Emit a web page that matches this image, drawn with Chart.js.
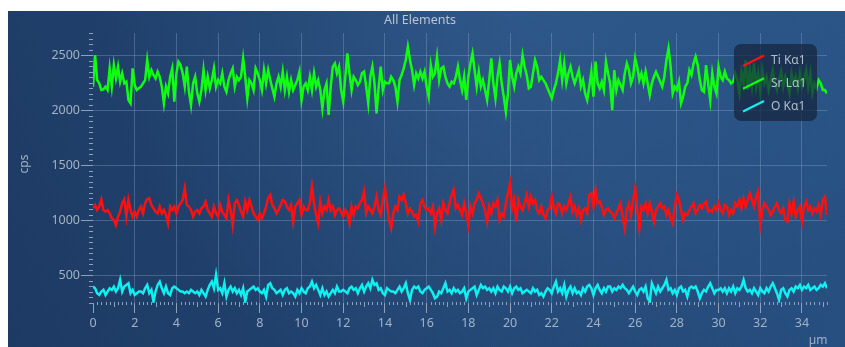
<!DOCTYPE html>
<html>
<head>
<meta charset="utf-8">
<script src="https://cdn.jsdelivr.net/npm/chart.js@4.4.0/dist/chart.umd.min.js"></script>
<style>
  html, body { margin: 0; padding: 0; background: #ffffff; }
  canvas { display: block; }
</style>
</head>
<body>
<canvas id="c" width="845" height="347"></canvas>
<script>
// Line scan profile: counts per second along the scan, sampled every 0.1 µm
const STEP_UM = 0.1;

const tiKa1 = [
  1109,1140,1094,1125,1191,1094,1079,1094,1064,1019,1004,958,1034,1079,1155,1191,1034,1185,1094,1034,1079,1034,1094,1125,1064,1155,1191,1200,1140,1109,1079,1064,1125,1064,1094,1049,973,1125,1094,1125,1064,1125,1155,1185,1291,1140,1125,1094,1034,1079,1094,1064,1109,1125,1170,1094,1064,1034,
  1125,1064,1034,1140,1079,1049,1019,1185,1094,958,1155,1185,1140,1079,1034,1170,1094,1185,1125,1064,1034,1004,1064,1019,1064,1125,1200,1230,1140,1109,1064,1094,1140,1185,1170,1125,1094,1140,989,1125,1155,1185,1049,1125,1094,1094,1155,1306,1155,1049,973,1170,1064,1125,1094,1185,1094,1125,1049,1094,1109,
  1079,1034,1094,1064,973,1125,1049,1125,1109,1155,1185,1261,1064,1125,1094,1064,1125,1215,1094,1049,1185,1291,1155,1004,928,1064,1125,1094,1215,1185,1230,1155,1064,1109,1079,1034,1049,989,1155,1185,1125,1094,1109,1064,1125,943,1064,1109,1004,1155,1094,1064,1155,1230,1276,1109,1140,1094,1049,1155,
  1064,958,1125,1064,1155,1185,1245,1200,1155,1094,989,1125,1064,1155,1125,1185,1004,1064,1034,1155,1245,1336,1109,1185,989,1185,1125,1094,1155,1230,1125,1215,1155,1185,1094,1064,1125,1049,1019,1094,1109,1215,1109,1064,1155,1140,1064,1125,1094,1155,1215,1079,1125,1049,1109,1004,1094,1109,1064,1230,1245,
  1125,1276,1155,1170,1125,1049,1094,1109,1079,1064,1019,1064,1109,1155,1034,928,1094,1155,1049,1185,1291,1094,928,1125,1094,1155,1064,1155,1079,989,1094,1125,1155,1109,1125,1049,1094,1019,973,1125,1230,1185,1094,1004,1064,1049,1094,1125,1155,1064,1094,1140,1109,1155,1170,1079,1094,1079,1125,1094,
  1155,1094,1064,1140,1125,1049,1094,1064,1155,1125,1185,1109,1200,1125,1185,1245,1185,1125,1215,1261,958,1094,1155,1125,1094,1049,1079,1125,1155,1094,1064,1109,1004,989,1155,1064,1170,1034,1094,1125,989,1125,1170,1094,1125,1064,1109,1079,1140,1049,1185,1215,1049
];

const srLa1 = [
  2213,2500,2273,2243,2183,2189,2213,2183,2379,2213,2409,2288,2394,2258,2334,2243,2258,2092,2062,2379,2228,2183,2198,2213,2243,2273,2455,2303,2364,2319,2288,2349,2303,2213,2062,2213,2152,2303,2379,2077,2334,2440,2409,2334,2213,2394,2167,2047,2243,2303,2152,2077,2183,2364,2183,2303,2198,2273,
  2379,2213,2273,2243,2334,2213,2167,2273,2334,2379,2213,2303,2273,2303,2470,2303,2107,2273,2243,2183,2379,2334,2273,2183,2364,2243,2364,2273,2198,2122,2243,2303,2213,2349,2183,2303,2167,2273,2183,2228,2273,2349,2092,2213,2243,2183,2303,2183,2334,2213,2273,2183,2016,2183,2243,1956,2213,2394,2424,2334,2394,
  2183,2077,2303,2515,2334,2183,2303,2273,2228,2258,2334,2349,2213,2062,2303,2394,2243,1971,2213,2394,2183,2258,2243,2243,2303,2273,2213,2077,2273,2319,2379,2455,2576,2455,2364,2228,2334,2288,2349,2288,2349,2213,2122,2409,2303,2334,2485,2273,2379,2394,2303,2243,2213,2258,2243,2303,2394,2273,2183,2303,
  2092,2303,2424,2515,2364,2213,2349,2213,2273,2183,2092,2273,2470,2243,2107,2303,2424,2243,2122,1986,2152,2455,2303,2213,2334,2394,2334,2500,2394,2319,2198,2213,2334,2455,2394,2273,2303,2273,2243,2198,2152,2107,2183,2243,2334,2455,2273,2424,2243,2334,2394,2303,2243,2303,2364,2213,2273,2152,2092,2213,2349,
  2122,2440,2243,2198,2258,2183,2440,2334,2243,2001,2364,2183,2273,2228,2183,2334,2424,2364,2243,2303,2470,2394,2273,2334,2243,2349,2243,2137,2243,2303,2349,2303,2258,2213,2303,2455,2560,2394,2152,2213,2183,2258,2062,2122,2213,2243,2364,2319,2424,2485,2409,2273,2183,2167,2409,2243,2092,2334,2213,2152,
  2394,2303,2273,2349,2288,2273,2243,2258,2334,2273,2152,2349,2243,2455,2183,2364,2213,2424,2213,2334,2167,2364,2243,2303,2183,2273,2364,2243,2183,2273,2349,2213,2303,2243,2152,2334,2243,2303,2198,2334,2213,2273,2364,2213,2334,2152,2243,2198,2273,2243,2183,2183,2152
];

const oKa1 = [
  399,384,339,323,354,369,323,354,384,369,399,354,384,460,354,399,414,429,339,369,323,339,354,354,339,384,414,339,369,263,354,414,444,384,339,399,339,323,384,399,384,369,354,354,339,354,339,369,354,339,354,323,369,339,308,369,414,444,
  384,505,369,384,339,429,308,369,399,354,384,339,369,323,384,263,354,369,384,399,369,384,354,339,369,308,414,429,384,369,339,354,369,323,369,384,339,354,339,308,369,339,384,354,339,384,399,444,384,414,369,323,384,323,354,308,339,369,339,399,354,
  354,369,354,339,384,399,369,384,339,384,414,354,399,429,384,460,414,429,369,384,339,323,384,369,354,354,339,369,399,354,384,429,339,278,369,399,384,399,354,339,369,384,399,369,339,293,308,354,339,384,429,354,369,339,384,354,369,339,354,384,
  293,354,369,384,399,323,369,414,384,399,369,384,354,384,339,399,369,354,399,384,354,399,339,384,399,369,384,339,354,369,354,339,384,354,369,323,339,308,354,384,369,339,399,444,354,384,339,414,308,369,399,339,384,339,354,323,384,354,399,414,384,
  323,384,414,369,339,384,354,399,399,354,384,369,399,384,414,384,369,339,369,399,354,323,369,384,354,399,293,263,429,384,339,399,354,384,414,460,369,384,339,369,323,384,399,354,369,308,384,399,384,399,354,293,339,369,354,399,429,384,339,369,
  369,384,354,384,339,384,354,399,339,384,369,399,460,384,354,369,339,384,354,323,384,354,339,384,354,399,429,384,339,278,369,384,339,308,369,384,354,399,384,414,369,399,384,414,369,384,399,369,384,414,399,429,384
];

const seriesNames = ['Ti Kα1', 'Sr Lα1', 'O Kα1'];
const seriesColors = ['#ff1010', '#10ff10', '#10f0f0'];
const yTickValues = [500, 1000, 1500, 2000, 2500];
const xTickValues = [0, 2, 4, 6, 8, 10, 12, 14, 16, 18, 20, 22, 24, 26, 28, 30, 32, 34];
const chartTitle = 'All Elements';
const yAxisTitle = 'cps';
const xAxisTitle = 'µm';

const Y_MIN = 250, Y_MAX = 2700, X_MIN = 0, X_MAX = 35.2;

function toPoints(values) {
  return values.map((v, i) => ({ x: Math.round(i * STEP_UM * 10) / 10, y: v }));
}

const TICK_COLOR = '#8ea1b8';
const LABEL_COLOR = '#a3b2c4';
const GRID_COLOR = 'rgba(150,180,215,0.32)';
const FONT = '"Noto Sans", "Open Sans", sans-serif';

// panel background, drawn under everything
const panelPlugin = {
  id: 'panel',
  beforeDraw(chart) {
    const ctx = chart.ctx;
    ctx.save();
    ctx.fillStyle = '#ffffff';
    ctx.fillRect(0, 0, chart.width, chart.height);
    const x0 = 8, y0 = 11, w = chart.width - x0, h = chart.height - y0;
    const lin = ctx.createLinearGradient(x0, y0 + h, x0 + w, y0);
    lin.addColorStop(0, '#1d3a63');
    lin.addColorStop(0.55, '#234775');
    lin.addColorStop(1, '#285284');
    ctx.fillStyle = lin;
    ctx.fillRect(x0, y0, w, h);
    const rad = ctx.createRadialGradient(520, 0, 10, 520, 0, 420);
    rad.addColorStop(0, 'rgba(70,120,175,0.30)');
    rad.addColorStop(1, 'rgba(70,120,175,0)');
    ctx.fillStyle = rad;
    ctx.fillRect(x0, y0, w, h);
    ctx.restore();
  }
};

// minor ticks, titles and the legend box
const decorPlugin = {
  id: 'decor',
  afterDatasetsDraw(chart) {
    const ctx = chart.ctx;
    // legend panel over the plot
    const lx = 734, ly = 44, lw = 83, lh = 77, r = 7;
    ctx.save();
    ctx.beginPath();
    ctx.moveTo(lx + r, ly);
    ctx.arcTo(lx + lw, ly, lx + lw, ly + lh, r);
    ctx.arcTo(lx + lw, ly + lh, lx, ly + lh, r);
    ctx.arcTo(lx, ly + lh, lx, ly, r);
    ctx.arcTo(lx, ly, lx + lw, ly, r);
    ctx.closePath();
    ctx.fillStyle = 'rgba(22,38,64,0.74)';
    ctx.fill();
    ctx.font = '12px ' + FONT;
    ctx.textBaseline = 'middle';
    ctx.textAlign = 'left';
    seriesNames.forEach((name, i) => {
      const cy = 61 + i * 22.7;
      ctx.strokeStyle = seriesColors[i];
      ctx.lineWidth = 2.2;
      ctx.beginPath();
      ctx.moveTo(743, cy + 5);
      ctx.lineTo(764, cy - 5.5);
      ctx.stroke();
      ctx.fillStyle = '#b4bfcc';
      ctx.fillText(name, 771, cy);
    });
    ctx.restore();
  },
  afterDraw(chart) {
    const ctx = chart.ctx;
    const xs = chart.scales.x, ys = chart.scales.y;
    const area = chart.chartArea;
    ctx.save();
    ctx.strokeStyle = TICK_COLOR;
    ctx.lineWidth = 1;
    // y minor ticks every 50 cps
    for (let v = Y_MIN; v <= Y_MAX; v += 50) {
      if (v % 500 === 0) continue;
      const y = Math.round(ys.getPixelForValue(v)) + 0.5;
      ctx.beginPath();
      ctx.moveTo(area.left - 4, y);
      ctx.lineTo(area.left, y);
      ctx.stroke();
    }
    // x minor ticks every 0.2 µm, medium ticks at odd µm
    for (let k = 0; k * 0.2 <= X_MAX + 1e-9; k++) {
      const v = k * 0.2;
      if (k % 10 === 0) continue;
      const x = Math.round(xs.getPixelForValue(v)) + 0.5;
      const len = (k % 5 === 0) ? 5 : 3;
      ctx.beginPath();
      ctx.moveTo(x, area.bottom - 1);
      ctx.lineTo(x, area.bottom - 1 + len);
      ctx.stroke();
    }
    // titles
    ctx.fillStyle = '#b9c4d2';
    ctx.font = '12.5px ' + FONT;
    ctx.textAlign = 'center';
    ctx.textBaseline = 'middle';
    ctx.fillText(chartTitle, 420, 20);
    ctx.fillStyle = LABEL_COLOR;
    ctx.font = '12px ' + FONT;
    ctx.fillText(xAxisTitle, 818, 341);
    ctx.translate(25, 164);
    ctx.rotate(-Math.PI / 2);
    ctx.fillText(yAxisTitle, 0, 0);
    ctx.restore();
  }
};

new Chart(document.getElementById('c'), {
  type: 'line',
  data: {
    datasets: [
      { label: seriesNames[0], data: toPoints(tiKa1), borderColor: seriesColors[0] },
      { label: seriesNames[1], data: toPoints(srLa1), borderColor: seriesColors[1] },
      { label: seriesNames[2], data: toPoints(oKa1), borderColor: seriesColors[2] }
    ].map(d => Object.assign(d, { borderWidth: 2.5, pointRadius: 0, tension: 0, fill: false }))
  },
  options: {
    responsive: false,
    animation: false,
    devicePixelRatio: 1,
    layout: { padding: { left: 0, top: 33, right: 18, bottom: 0 } },
    plugins: { legend: { display: false }, tooltip: { enabled: false }, title: { display: false } },
    scales: {
      x: {
        type: 'linear',
        min: X_MIN, max: X_MAX,
        afterBuildTicks(scale) { scale.ticks = xTickValues.map(v => ({ value: v })); },
        afterFit(scale) { scale.height = 44; },
        border: { display: false },
        grid: {
          color: ctx => (ctx.tick && ctx.tick.value === 0) ? 'rgba(0,0,0,0)' : GRID_COLOR,
          tickColor: TICK_COLOR,
          tickLength: 10,
          lineWidth: 1
        },
        ticks: {
          color: LABEL_COLOR, font: { family: FONT, size: 12.5 }, padding: 3,
          maxRotation: 0, autoSkip: false,
          callback: v => String(v)
        }
      },
      y: {
        type: 'linear',
        min: Y_MIN, max: Y_MAX,
        afterBuildTicks(scale) { scale.ticks = yTickValues.map(v => ({ value: v })); },
        afterFit(scale) { scale.width = 93; },
        border: { display: false },
        grid: { color: GRID_COLOR, tickColor: TICK_COLOR, tickLength: 12, lineWidth: 1 },
        ticks: {
          color: LABEL_COLOR, font: { family: FONT, size: 12.5 }, padding: 1,
          callback: v => String(v)
        }
      }
    }
  },
  plugins: [panelPlugin, decorPlugin]
});
</script>
</body>
</html>
